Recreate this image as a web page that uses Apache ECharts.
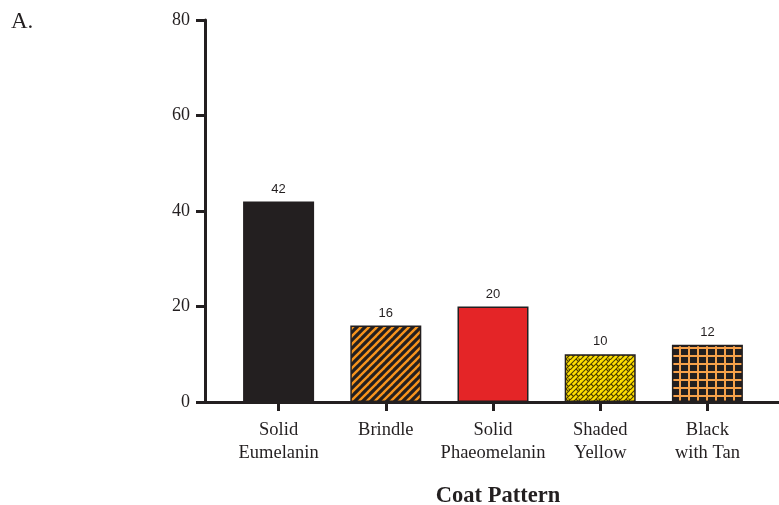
<!DOCTYPE html>
<html><head><meta charset="utf-8">
<script src="https://cdn.jsdelivr.net/npm/echarts@6/dist/echarts.min.js"></script>
<style>html,body{margin:0;padding:0;background:#fff}#c{width:779px;height:505px}</style>
</head><body><div id="c"></div>
<script>
const categories = ['Solid\nEumelanin', 'Brindle', 'Solid\nPhaeomelanin', 'Shaded\nYellow', 'Black\nwith Tan'];
const values = [42, 16, 20, 10, 12];
const yTicks = [0, 20, 40, 60, 80];

function mk(w, h, draw) { const c = document.createElement('canvas'); c.width = w; c.height = h; draw(c.getContext('2d'), w, h); return c; }
const brindle = mk(8, 8, (g, w, h) => {
  g.fillStyle = '#231f20'; g.fillRect(0, 0, w, h);
  g.strokeStyle = '#f7941d'; g.lineWidth = 2.4;
  for (let k = -1; k <= 1; k++) { g.beginPath(); g.moveTo(k * w - 1, h + 1); g.lineTo(k * w + w + 1, -1); g.stroke(); }
});
const shaded = mk(10, 10, (g, w, h) => {
  g.fillStyle = '#ffe000'; g.fillRect(0, 0, w, h);
  g.strokeStyle = '#4a3d00'; g.lineWidth = 1.1;
  const seg = (a, b, c, d) => { g.beginPath(); g.moveTo(a, b); g.lineTo(c, d); g.stroke(); };
  seg(-1, 6, 6, -1); seg(-1, 11, 11, -1); seg(4, 11, 11, 4);
  seg(1, 4, 3.5, 6.5); seg(6, 4, 8.5, 6.5);
  seg(6, -1, 8.5, 1.5); seg(6, 9, 8.5, 11.5);
  seg(-1.5, 8.5, 1, 11); seg(8.5, 8.5, 11, 11);
});
const tan = mk(9, 8, (g, w, h) => {
  g.fillStyle = '#231f20'; g.fillRect(0, 0, w, h);
  g.fillStyle = '#f7a14a'; g.fillRect(4, 0, 2, h); g.fillRect(0, 3, w, 2);
});
const fills = ['#231f20', { image: brindle, repeat: 'repeat' }, '#e42527', { image: shaded, repeat: 'repeat' }, { image: tan, repeat: 'repeat' }];

const chart = echarts.init(document.getElementById('c'), null, { renderer: 'canvas' });
chart.setOption({
  animation: false,
  grid: [
    { left: 225, right: 18, top: 20, bottom: 103, containLabel: false, outerBoundsMode: 'none' },
    { left: 205, right: 0, top: 20, bottom: 103, containLabel: false, outerBoundsMode: 'none' }
  ],
  title: { text: 'A.', left: 6, top: 5, textStyle: { fontFamily: 'Liberation Serif', fontWeight: 'normal', fontSize: 23, color: '#231f20' } },
  xAxis: [
    {
      type: 'category', data: categories, gridIndex: 0,
      axisLine: { show: false },
      axisTick: { show: true, alignWithLabel: true, length: 9, lineStyle: { color: '#231f20', width: 3 } },
      axisLabel: { fontFamily: 'Liberation Serif', fontSize: 18.5, color: '#231f20', margin: 17, lineHeight: 23, interval: 0 },
      name: 'Coat Pattern', nameLocation: 'middle', nameGap: 83,
      nameTextStyle: { fontFamily: 'Liberation Serif', fontWeight: 'bold', fontSize: 22.5, color: '#231f20', padding: [0, 0, 0, 10] }
    },
    {
      type: 'value', gridIndex: 1, min: 0, max: 1,
      axisLine: { show: true, lineStyle: { color: '#231f20', width: 3 } },
      axisTick: { show: false }, axisLabel: { show: false }, splitLine: { show: false }
    }
  ],
  yAxis: [
    {
      type: 'value', gridIndex: 0, min: 0, max: 80, interval: 20, offset: 20,
      axisLine: { show: true, lineStyle: { color: '#231f20', width: 3 } },
      axisTick: { show: true, length: 9, lineStyle: { color: '#231f20', width: 3 } },
      axisLabel: { fontFamily: 'Liberation Serif', fontSize: 18, color: '#231f20', margin: 15,
        formatter: v => yTicks.includes(v) ? String(v) : '' },
      splitLine: { show: false }
    },
    { type: 'value', gridIndex: 1, min: 0, max: 80, show: false }
  ],
  series: [{
    type: 'bar', xAxisIndex: 0, yAxisIndex: 0, barWidth: 71,
    data: values.map((v, i) => ({ value: v, itemStyle: { color: fills[i] } })),
    itemStyle: { borderColor: '#231f20', borderWidth: 1.5 },
    label: { show: true, position: 'top', distance: 6, fontFamily: 'Liberation Sans', fontSize: 13, color: '#231f20' }
  }]
});
</script></body></html>
